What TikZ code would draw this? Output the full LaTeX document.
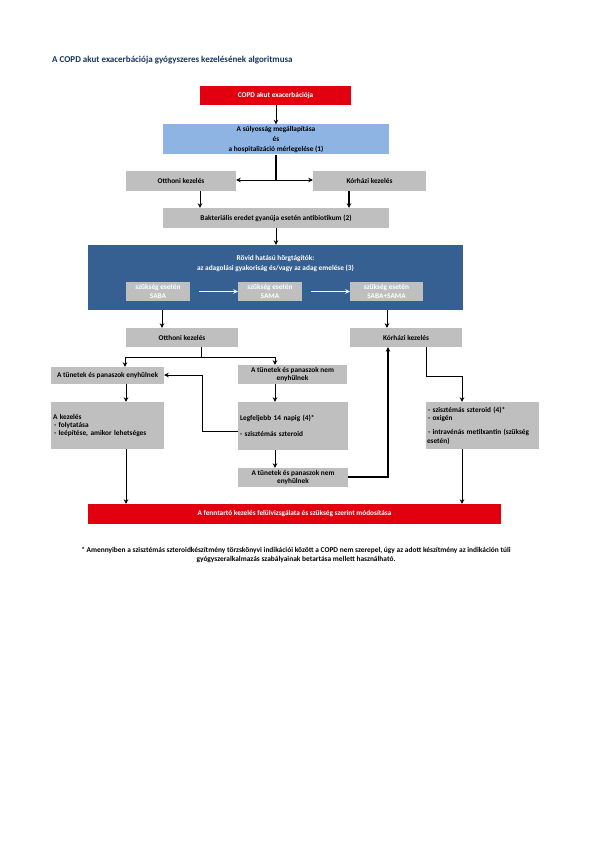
\documentclass[tikz,border=0pt]{standalone}
\usepackage{fontspec}
\setmainfont{Carlito}
\usetikzlibrary{arrows.meta,calc}
\definecolor{cred}{RGB}{226,0,16}
\definecolor{clblue}{RGB}{142,180,227}
\definecolor{cdblue}{RGB}{55,96,146}
\definecolor{cgray}{RGB}{191,191,191}
\definecolor{ctitle}{RGB}{23,54,93}
\begin{document}
\begin{tikzpicture}[x=1pt,y=-1pt,
  font=\bfseries\fontsize{7.3}{8.4}\selectfont,
  box/.style={fill=cgray, inner sep=1pt, align=center},
  lbox/.style={fill=cgray, inner xsep=2pt, inner ysep=1pt, align=left},
  redbox/.style={fill=cred, text=white, inner sep=1pt, align=center},
  arr/.style={-{Stealth[length=4.5pt,width=4.5pt]}, line width=0.8pt},
  plain/.style={line width=0.8pt},
  thk/.style={line width=1.4pt},
  warr/.style={-{Stealth[length=4.5pt,width=4.5pt]}, line width=0.8pt, white, shorten <=9pt}]
\useasboundingbox[fill=white] (0,0) rectangle (595,842);

\node[anchor=west, inner sep=0pt, text=ctitle, font=\bfseries\fontsize{9}{10}\selectfont] (title) at (52,60)
  {A COPD akut exacerbációja gyógyszeres kezelésének algoritmusa};

\node[redbox, minimum width=151pt, minimum height=19pt] (red1) at (275.5,95.5) {COPD akut exacerbációja};
\node[fill=clblue, inner sep=0pt, align=center, minimum width=226pt, minimum height=30pt] (blue1) at (276,139.5)
  {A súlyosság megállapítása\\[1.5pt]és\\[1.5pt]a hospitalizáció mérlegelése (1)};
\node[box, minimum width=110pt, minimum height=20pt] (otth1) at (181,181) {Otthoni kezelés};
\node[box, minimum width=113pt, minimum height=20pt] (korh1) at (369.5,181) {Kórházi kezelés};
\node[box, minimum width=226pt, minimum height=20pt] (bakt) at (276,218) {Bakteriális eredet gyanúja esetén antibiotikum (2)};

\node[fill=cdblue, minimum width=375pt, minimum height=65pt, inner sep=0pt] (dark) at (275.5,277.5) {};
\node[text=white, align=center, inner sep=0pt] (darktxt) at (275.5,263.5) {Rövid hatású hörgtágítók:\\[1.5pt]az adagolási gyakoriság és/vagy az adag emelése (3)};
\node[box, text=white, minimum width=64pt, minimum height=19pt, inner sep=0pt] (saba) at (158,291.5) {szükség esetén\\SABA};
\node[box, text=white, minimum width=64pt, minimum height=19pt, inner sep=0pt] (sama) at (270,291.5) {szükség esetén\\SAMA};
\node[box, text=white, minimum width=73pt, minimum height=19pt, inner sep=0pt] (sabasama) at (386.5,291.5) {szükség esetén\\SABA+SAMA};

\node[box, minimum width=112pt, minimum height=19pt] (otth2) at (182,337.5) {Otthoni kezelés};
\node[box, minimum width=112pt, minimum height=19pt] (korh2) at (406,337.5) {Kórházi kezelés};

\node[box, minimum width=113pt, minimum height=17pt, inner sep=0pt] (enyh) at (107.5,375.5) {A tünetek és panaszok enyhülnek};
\node[box, minimum width=109pt, minimum height=19pt, inner sep=0pt] (nemenyh1) at (292.5,374.5) {A tünetek és panaszok nem\\enyhülnek};
\node[lbox, text width=109pt, minimum height=47pt] (kezeles) at (107.5,425.5)
  {A kezelés\\\hspace{1pt}- folytatása\\\hspace{1pt}- leépítése, amikor lehetséges\\[2pt]};
\node[lbox, text width=106pt, minimum height=48pt] (legf) at (293,426)
  {Legfeljebb 14 napig (4)*\\[7pt]- szisztémás szteroid};
\node[box, minimum width=110pt, minimum height=19pt, inner sep=0pt] (nemenyh2) at (293,477.5) {A tünetek és panaszok nem\\enyhülnek};
\node[lbox, text width=111pt, minimum height=47pt, inner xsep=1pt] (szter) at (482.5,425.5)
  {\hspace{1pt}- szisztémás szteroid (4)*\\\hspace{1pt}- oxigén\\[6pt]\hspace{1pt}- intravénás metilxantin (szükség\\esetén)\\[-7pt]};

\node[redbox, minimum width=413pt, minimum height=20pt] (red2) at (294.5,514) {A fenntartó kezelés felülvizsgálata és szükség szerint módosítása};

\node[align=center, inner sep=0pt, font=\bfseries\fontsize{7.4}{9}\selectfont] (fn) at (296,554.5)
  {* Amennyiben a szisztémás szteroidkészítmény törzskönyvi indikációi között a COPD nem szerepel, úgy az adott készítmény az indikáción túli\\gyógyszeralkalmazás szabályainak betartása mellett használható.};

% connectors
\draw[arr] (red1.south -| blue1.north) -- (blue1.north);
\coordinate (j1) at (276,180);
\draw[thk] (blue1.south) -- (j1);
\draw[arr] (j1) -- (j1 -| otth1.east);
\draw[arr] (j1) -- (j1 -| korh1.west);
\draw[arr] (otth1.south -| 200,0) -- (bakt.north -| 200,0);
\draw[arr, thk] (korh1.south -| 349,0) -- (bakt.north -| 349,0);
\draw[arr] (bakt.south) -- (bakt.south |- dark.north);
\draw[warr] (saba) -- (sama);
\draw[warr] (sama) -- (sabasama);
\draw[arr] (dark.south -| 162,0) -- (otth2.north -| 162,0);
\draw[arr] (dark.south -| 387,0) -- (korh2.north -| 387,0);
\coordinate (j2) at (201,357);
\coordinate (j2l) at (125,357);
\coordinate (j2r) at (275,357);
\draw[plain] (otth2.south -| j2) -- (j2);
\draw[plain] (j2l) -- (j2r);
\draw[arr] (j2l) -- (j2l |- enyh.north);
\draw[arr] (j2r) -- (j2r |- nemenyh1.north);
\draw[arr] (enyh.south -| 126,0) -- (kezeles.north -| 126,0);
\draw[arr] (kezeles.south -| 126,0) -- (red2.north -| 126,0);
\draw[arr] (nemenyh1.south -| 275,0) -- (legf.north -| 275,0);
\draw[arr] (legf.south -| 275,0) -- (nemenyh2.north -| 275,0);
\coordinate (r1) at (202,431);
\coordinate (r2) at (202,375);
\draw[arr] (legf.west |- r1) -- (r1) -- (r2) -- (r2 -| enyh.east);
\coordinate (k1) at (388,477);
\draw[arr, thk] (nemenyh2.east |- k1) -- (k1) -- (k1 |- korh2.south);
\coordinate (s1) at (426,376);
\coordinate (s2) at (462,376);
\draw[arr] (korh2.south -| s1) -- (s1) -- (s2) -- (s2 |- szter.north);
\draw[arr] (szter.south -| 462,0) -- (red2.north -| 462,0);
\end{tikzpicture}
\end{document}
